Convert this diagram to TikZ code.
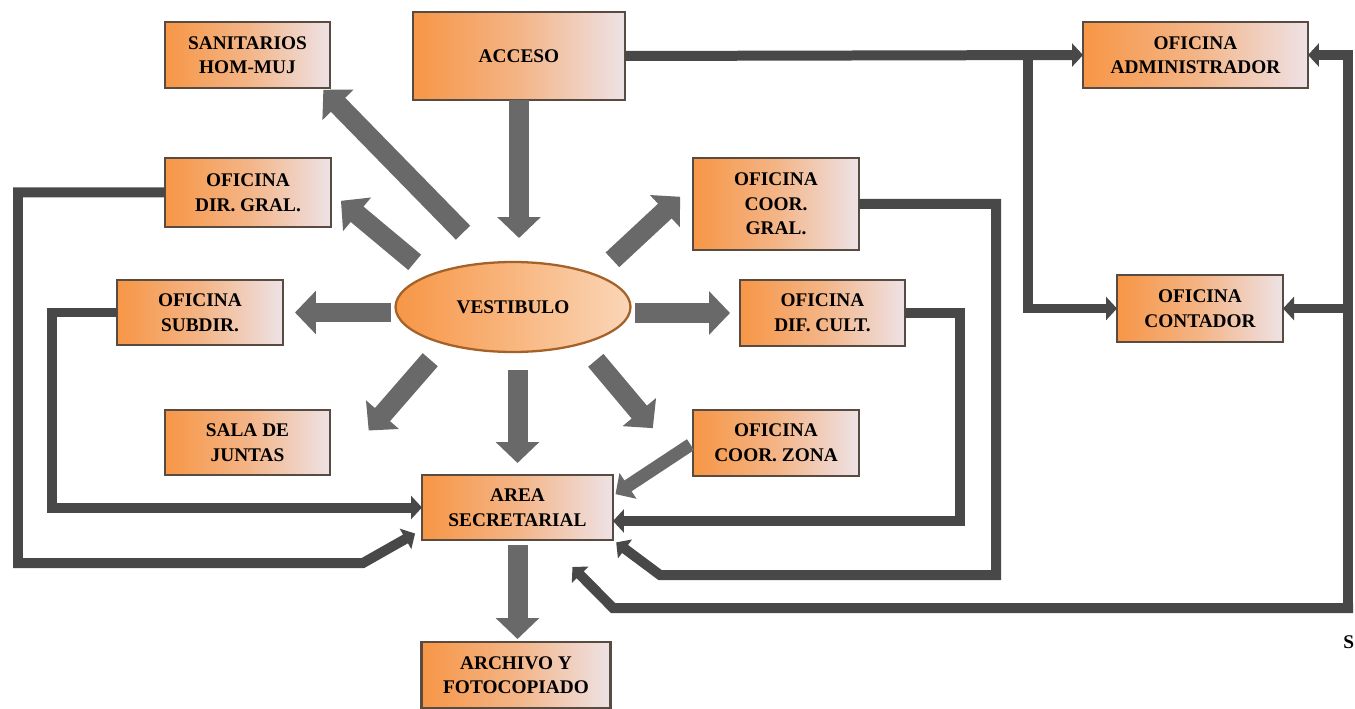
\documentclass[tikz,border=0pt]{standalone}
\usepackage{fontspec}
\setmainfont{Liberation Serif}
\usetikzlibrary{arrows.meta,shapes.geometric,calc}
\definecolor{boxorange}{RGB}{247,150,70}
\definecolor{boxpale}{RGB}{238,226,230}
\definecolor{boxline}{RGB}{88,76,66}
\definecolor{hallrim}{RGB}{165,98,40}
\definecolor{hallpale}{RGB}{250,214,184}
\definecolor{fatgray}{RGB}{105,105,105}
\definecolor{wiregray}{RGB}{72,72,72}

\begin{document}
\begin{tikzpicture}[x=0.02cm,y=-0.02cm,
    room/.style={draw=boxline,line width=1.3pt,left color=boxorange,right color=boxpale,
      middle color=boxorange!60!boxpale,align=center,inner sep=0pt,outer sep=0pt,
      font=\bfseries\fontsize{11}{14}\selectfont},
    hall/.style={ellipse,draw=hallrim,line width=1.3pt,left color=boxorange,right color=hallpale,
      inner sep=0pt,outer sep=0pt,font=\bfseries\fontsize{11}{14}\selectfont},
    fat/.style={draw=fatgray,line width=0.4cm,-{Triangle[width=0.85cm,length=0.42cm]}},
    midarrow/.style={draw=fatgray,line width=0.26cm,-{Triangle[width=0.6cm,length=0.3cm]}},
    wire/.style={draw=wiregray,line width=0.2cm,-{Triangle[width=0.46cm,length=0.22cm]}}]
    \useasboundingbox (0,0) rectangle (1355,709);

    \node[room,minimum width=3.3cm,minimum height=1.32cm] (sanit) at (247.5,55) {SANITARIOS\\HOM-MUJ};
    \node[room,minimum width=4.24cm,minimum height=1.76cm] (acceso) at (519,56) {ACCESO};
    \node[room,minimum width=4.5cm,minimum height=1.32cm] (admin) at (1195.5,55) {OFICINA\\ADMINISTRADOR};
    \node[room,minimum width=3.32cm,minimum height=1.38cm] (dirgral) at (248,192.5) {OFICINA\\DIR. GRAL.};
    \node[room,minimum width=3.32cm,minimum height=1.84cm] (coorgral) at (776,204) {OFICINA\\COOR.\\GRAL.};
    \node[hall,minimum width=4.7cm,minimum height=1.8cm] (vest) at (513,307) {VESTIBULO};
    \node[room,minimum width=3.32cm,minimum height=1.3cm] (subdir) at (200,312.5) {OFICINA\\SUBDIR.};
    \node[room,minimum width=3.3cm,minimum height=1.32cm] (difcult) at (822.5,313) {OFICINA\\DIF. CULT.};
    \node[room,minimum width=3.32cm,minimum height=1.34cm] (contador) at (1200,308.5) {OFICINA\\CONTADOR};
    \node[room,minimum width=3.3cm,minimum height=1.3cm] (salajuntas) at (247.5,442.5) {SALA DE\\JUNTAS};
    \node[room,minimum width=3.32cm,minimum height=1.32cm] (coorzona) at (776,443) {OFICINA\\COOR. ZONA};
    \node[room,minimum width=3.82cm,minimum height=1.3cm] (areasec) at (517.5,507.5) {AREA\\SECRETARIAL};
    \node[room,minimum width=3.78cm,minimum height=1.32cm] (archivo) at (516,675) {ARCHIVO Y\\FOTOCOPIADO};
    \node[font=\bfseries\fontsize{11}{14}\selectfont,anchor=west,inner sep=0pt] (smark) at (1343,642) {S};

    \draw[fat,shorten >=0.48cm] (acceso.south) -- (acceso.south |- vest.north);
    \draw[fat,shorten <=0.84cm,shorten >=0.05cm] (vest.115) -- (sanit.-24);
    \draw[fat,shorten <=0.4cm,shorten >=0.26cm] (vest.159) -- (dirgral.east);
    \draw[fat,shorten <=0.1cm,shorten >=0.24cm] (vest.west |- subdir) -- (subdir.east);
    \draw[fat,shorten <=0.43cm,shorten >=1.18cm] (vest.208) -- (salajuntas.south east);
    \draw[fat,shorten <=0.36cm,shorten >=0.24cm] (areasec.north |- vest.south) -- (areasec.north);
    \draw[fat,shorten <=0.44cm,shorten >=1.25cm] (vest.-28) -- (coorzona.south west);
    \draw[fat,shorten <=0.1cm,shorten >=0.2cm] (vest.east |- difcult) -- (difcult.west);
    \draw[fat,shorten <=0.45cm,shorten >=0.35cm] (vest.21) -- (coorgral.167);
    \draw[fat,shorten <=0.1cm,shorten >=0.06cm] (areasec.south) -- (areasec.south |- archivo.north);
    \draw[midarrow,shorten <=0.06cm,shorten >=0.06cm] (coorzona.west) -- (areasec.7);

    \coordinate (fork) at (1028,55);
    \coordinate (rbot) at (1348,608);
    \coordinate (rbend) at (613,608);
    \coordinate (dgcorner) at (18,563);
    \coordinate (dgbend) at (363,563);
    \coordinate (sdcorner) at (52,507.5);
    \coordinate (dccorner) at (960,521);
    \coordinate (cgcorner) at (996,575);
    \coordinate (cgbend) at (660,575);

    \draw[wire] (acceso.east) -- (admin.west);
    \draw[wire] (fork) |- (contador.west);
    \draw[wire,line cap=rect] (rbot) |- (admin.east);
    \draw[wire] (rbot |- contador.east) -- (contador.east);
    \draw[wire,line cap=rect,shorten >=0.76cm] (rbot) -- (rbend) -- (areasec.-49);
    \draw[wire,shorten >=0.16cm] (dirgral.west) -| (dgcorner) -- (dgbend) -- (areasec.193);
    \draw[wire] (subdir.west) -| (sdcorner) -- (areasec.west);
    \draw[wire] (difcult.east) -| (dccorner) -- (dccorner -| areasec.east);
    \draw[wire,shorten >=0.08cm] (coorgral.east) -| (cgcorner) -- (cgbend) -- (areasec.south east);
\end{tikzpicture}
\end{document}
